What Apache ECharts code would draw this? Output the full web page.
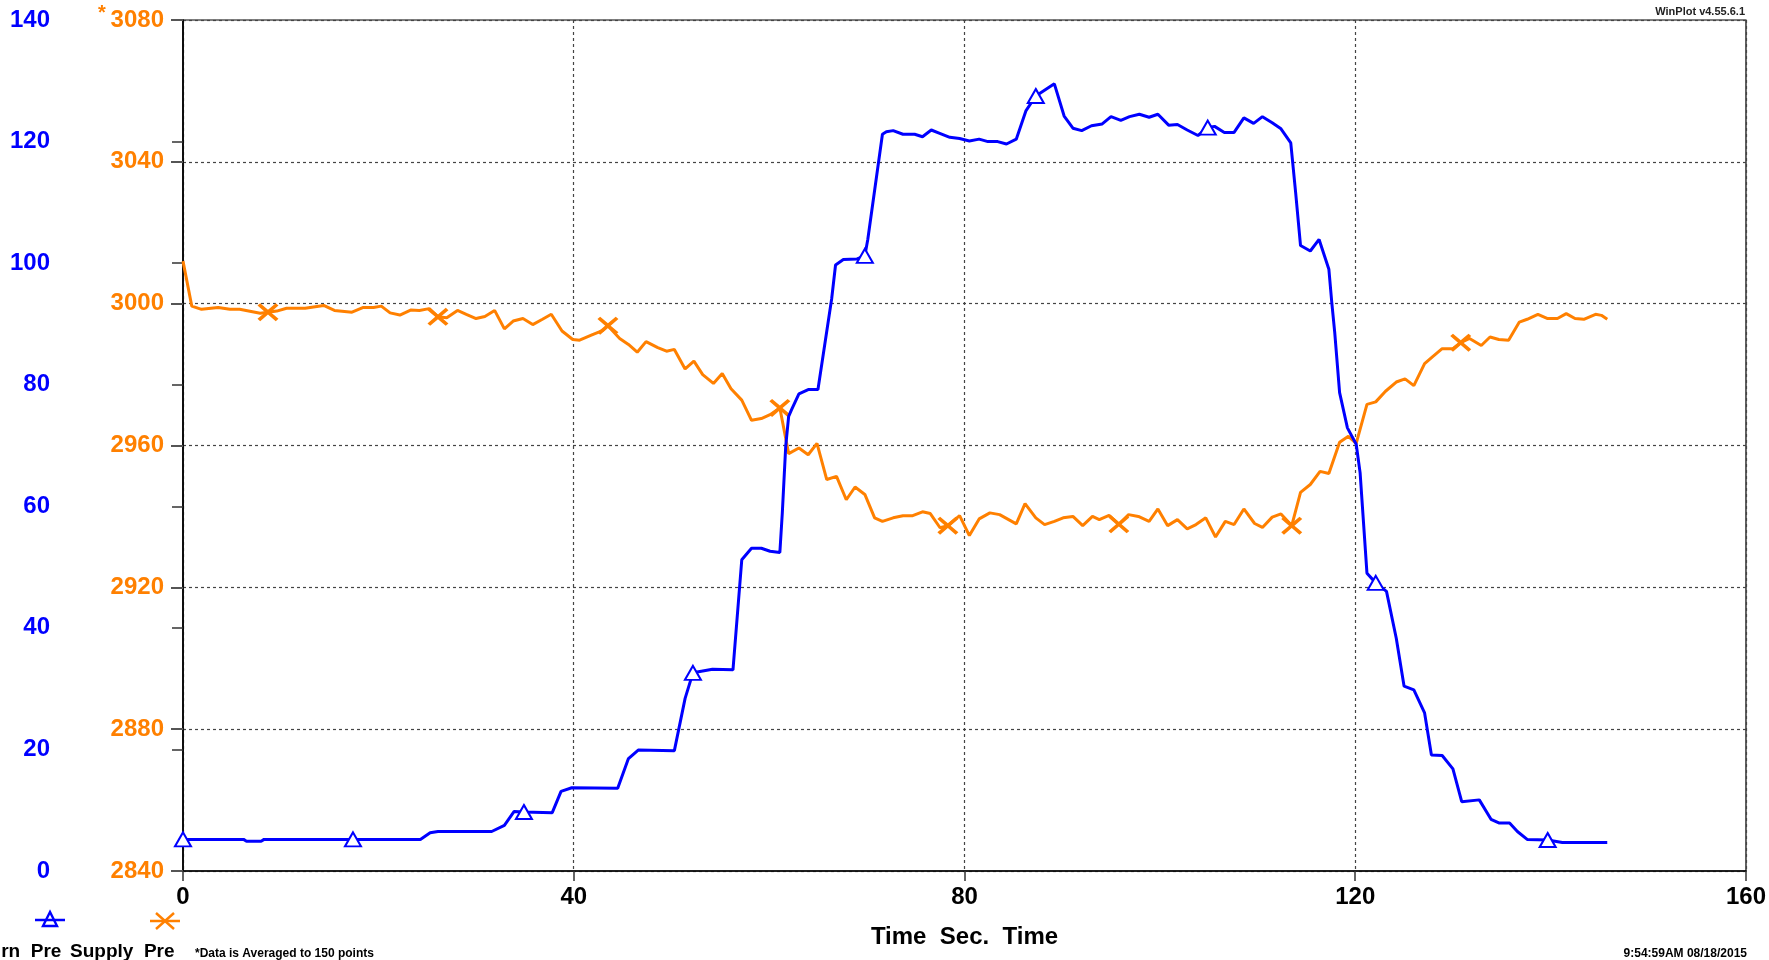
<!DOCTYPE html>
<html>
<head>
<meta charset="utf-8">
<script src="https://cdn.jsdelivr.net/npm/echarts@6/dist/echarts.min.js"></script>
<style>
html,body{margin:0;padding:0;background:#fff;}
#chart{width:1769px;height:960px;}
</style>
</head>
<body>
<div id="chart"></div>
<script>
// ---- data ----
const blueName = 'Return  Press';
const orangeName = 'Supply  Press';

const blueTime = [0, 6.2, 6.5, 8.0, 8.3, 17.4, 24.3, 25.3, 26.1, 31.6, 32.9, 33.9, 34.9, 37.8, 38.7, 39.8, 44.5, 45.6, 46.6, 50.3,
  51.4, 52.2, 54.2, 56.3, 57.2, 58.2, 59.2, 60.1, 61.1, 61.35, 61.7, 62.0, 62.3, 63.05, 64.0, 65.0, 66.4, 66.8, 67.6, 69.0,
  69.8, 70.1, 71.6, 72.0, 72.7, 73.7, 74.9, 75.7, 76.6, 77.4, 78.5, 79.5, 80.5, 81.5, 82.4, 83.4, 84.3, 85.3, 86.3, 87.3,
  89.2, 90.2, 91.1, 92.0, 93.0, 94.1, 95.0, 96.0, 96.9, 97.9, 98.9, 99.8, 100.9, 101.8, 102.8, 103.9, 104.9, 105.6, 106.6, 107.6,
  108.6, 109.6, 110.5, 111.5, 112.4, 113.4, 113.9, 114.4, 115.4, 116.3, 117.3, 117.6, 117.9, 118.4, 119.2, 120.1, 120.5, 121.2, 122.1, 123.2,
  124.2, 125.0, 126.0, 127.1, 127.8, 128.9, 130.0, 130.9, 132.7, 133.9, 134.7, 135.8, 136.6, 137.6, 139.7, 141.2, 145.8];
const bluePres = [5.2, 5.2, 4.9, 4.9, 5.2, 5.2, 5.2, 6.3, 6.5, 6.5, 7.5, 9.8, 9.7, 9.6, 13.1, 13.7, 13.6, 18.5, 19.9, 19.8,
  28.4, 32.6, 33.2, 33.1, 51.2, 53.1, 53.1, 52.6, 52.4, 58.9, 69.9, 74.8, 75.9, 78.5, 79.2, 79.2, 94.1, 99.7, 100.6, 100.7,
  101.2, 103.9, 121.2, 121.6, 121.8, 121.2, 121.2, 120.8, 121.9, 121.4, 120.7, 120.5, 120.1, 120.4, 120.0, 120.0, 119.6, 120.4, 125.1, 127.5,
  129.5, 124.2, 122.2, 121.8, 122.6, 122.9, 124.1, 123.5, 124.1, 124.5, 124.0, 124.5, 122.7, 122.8, 121.9, 121.0, 122.3, 122.5, 121.5, 121.5,
  123.9, 123.0, 124.1, 123.1, 122.1, 119.8, 111.6, 102.9, 102.0, 103.9, 99.0, 93.5, 88.6, 78.7, 72.9, 70.2, 65.5, 49.0, 47.4, 46.0,
  38.3, 30.4, 29.8, 26.0, 19.1, 19.0, 16.8, 11.4, 11.7, 8.5, 7.9, 7.9, 6.5, 5.2, 5.1, 4.7, 4.7];
const blueMarkTimes = [0, 17.4, 34.9, 52.2, 69.8, 87.3, 104.9, 122.1, 139.7];

const orangeTime = [0, 0.9, 1.9, 3.6, 4.8, 5.8, 7.9, 8.7, 9.6, 10.6, 12.5, 14.4, 15.5, 17.3, 18.4, 19.5, 20.3, 21.2, 22.2, 23.3,
  24.2, 25.2, 26.1, 27.0, 28.1, 29.0, 30.0, 30.9, 31.9, 32.9, 33.8, 34.8, 35.8, 36.8, 37.7, 38.8, 39.9, 40.6, 41.8, 43.0,
  43.5, 44.7, 45.6, 46.5, 47.4, 48.6, 49.5, 50.3, 51.4, 52.3, 53.2, 54.3, 55.2, 56.1, 57.2, 58.2, 59.2, 60.1, 61.1, 62.0,
  63.05, 64.0, 64.9, 65.9, 66.9, 67.9, 68.8, 69.8, 70.8, 71.6, 72.7, 73.7, 74.7, 75.7, 76.5, 77.5, 78.3, 79.5, 80.5, 81.5,
  82.6, 83.6, 85.3, 86.2, 87.3, 88.2, 89.2, 90.1, 91.1, 92.1, 93.1, 93.8, 94.8, 95.8, 96.8, 97.8, 98.9, 99.8, 100.8, 101.8,
  102.8, 103.7, 104.7, 105.7, 106.7, 107.6, 108.6, 109.7, 110.5, 111.5, 112.4, 113.5, 114.4, 115.4, 116.4, 117.3, 118.4, 119.3, 120.1, 121.2,
  122.1, 123.1, 124.2, 125.1, 126.0, 127.1, 127.9, 128.9, 130.0, 130.8, 131.7, 132.9, 133.8, 134.7, 135.7, 136.8, 137.6, 138.7, 139.7, 140.7,
  141.6, 142.5, 143.4, 144.6, 145.2, 145.8];
const orangePres = [3012.0, 2999.3, 2998.4, 2998.9, 2998.4, 2998.4, 2997.3, 2997.6, 2997.9, 2998.7, 2998.7, 2999.5, 2998.1, 2997.6, 2998.9, 2998.9, 2999.3, 2997.4, 2996.8, 2998.2,
  2998.1, 2998.6, 2996.3, 2996.0, 2998.1, 2997.0, 2995.8, 2996.4, 2998.1, 2992.9, 2995.1, 2995.8, 2994.1, 2995.6, 2997.0, 2992.3, 2989.9, 2989.7, 2991.1, 2992.5,
  2993.8, 2990.2, 2988.5, 2986.3, 2989.3, 2987.6, 2986.6, 2987.1, 2981.6, 2983.8, 2980.0, 2977.5, 2980.3, 2976.0, 2972.8, 2967.1, 2967.6, 2968.7, 2970.6, 2957.7,
  2959.3, 2957.4, 2960.6, 2950.4, 2951.3, 2944.7, 2948.3, 2946.2, 2939.6, 2938.6, 2939.6, 2940.2, 2940.2, 2941.3, 2940.8, 2936.8, 2937.4, 2940.2, 2934.6, 2939.3,
  2941.0, 2940.5, 2937.9, 2943.6, 2939.6, 2937.7, 2938.6, 2939.6, 2940.0, 2937.4, 2940.0, 2939.1, 2940.3, 2937.8, 2940.5, 2940.0, 2938.6, 2942.1, 2937.4, 2939.1,
  2936.5, 2937.7, 2939.6, 2934.2, 2938.6, 2937.7, 2942.1, 2938.0, 2936.9, 2939.8, 2940.7, 2937.4, 2946.8, 2949.0, 2952.7, 2952.1, 2960.9, 2962.6, 2960.6, 2971.6,
  2972.3, 2975.3, 2977.9, 2978.8, 2976.9, 2983.1, 2985.0, 2987.3, 2987.3, 2989.0, 2990.2, 2988.2, 2990.6, 2989.9, 2989.7, 2994.8, 2995.6, 2997.0, 2995.8, 2995.8,
  2997.2, 2995.8, 2995.6, 2997.0, 2996.7, 2995.6];
const orangeMarkTimes = [8.7, 26.1, 43.5, 61.1, 78.3, 95.8, 113.5, 130.8];

const xTicks = {min: 0, max: 160, interval: 40};
const blueTicks = {min: 0, max: 140, interval: 20};
const orangeTicks = {min: 2840, max: 3080, interval: 40};

// ---- styles ----
const BLUE = '#0000FF';
const ORANGE = '#FF8000';
const FONT = 'Arial, "Liberation Sans", sans-serif';
const X_PATH = 'path://M0,1.3L1.3,0L5,3.7L8.7,0L10,1.3L6.3,5L10,8.7L8.7,10L5,6.3L1.3,10L0,8.7L3.7,5Z';

function buildSeriesData(times, values, marks, markSymbol, markSize) {
  return times.map((t, i) => {
    const isMark = marks.indexOf(t) >= 0;
    return {
      value: [t, values[i]],
      symbol: isMark ? markSymbol : 'none',
      symbolSize: isMark ? markSize : 0
    };
  });
}

const chart = echarts.init(document.getElementById('chart'), null, {renderer: 'canvas'});

const gridDot = {show: true, lineStyle: {type: [3, 3], color: '#444', width: 1.2}};
const plain = v => String(v);

const option = {
  animation: false,
  backgroundColor: '#fff',
  grid: {left: 183, right: 22, top: 20, bottom: 89, show: true, borderColor: '#000', borderWidth: 1.2, backgroundColor: 'transparent'},
  xAxis: {
    type: 'value', min: xTicks.min, max: xTicks.max, interval: xTicks.interval,
    name: 'Time  Sec.  Time', nameLocation: 'middle', nameGap: 54,
    nameTextStyle: {fontFamily: FONT, fontWeight: 'bold', fontSize: 24, color: '#000'},
    axisLine: {show: true, lineStyle: {color: '#000', width: 1.5}},
    axisTick: {show: true, inside: false, length: 10, lineStyle: {color: '#333', width: 1.5}},
    axisLabel: {fontFamily: FONT, fontWeight: 'bold', fontSize: 24, color: '#000', margin: 14, formatter: plain},
    splitLine: gridDot
  },
  yAxis: [
    {
      type: 'value', position: 'left', offset: 115,
      min: blueTicks.min, max: blueTicks.max, interval: blueTicks.interval,
      axisLine: {show: true, lineStyle: {color: '#333', width: 1.5}},
      axisTick: {show: true, inside: false, length: 11, lineStyle: {color: '#333', width: 1.5}},
      axisLabel: {fontFamily: FONT, fontWeight: 'bold', fontSize: 24, color: BLUE, margin: 18, formatter: plain},
      splitLine: {show: false}
    },
    {
      type: 'value', position: 'left', offset: 0,
      min: orangeTicks.min, max: orangeTicks.max, interval: orangeTicks.interval,
      axisLine: {show: true, lineStyle: {color: '#000', width: 1.5}},
      axisTick: {show: true, inside: false, length: 12, lineStyle: {color: '#555', width: 2}},
      axisLabel: {fontFamily: FONT, fontWeight: 'bold', fontSize: 24, color: ORANGE, margin: 19, formatter: plain},
      splitLine: gridDot
    }
  ],
  series: [
    {
      name: orangeName, type: 'line', yAxisIndex: 1,
      data: buildSeriesData(orangeTime, orangePres, orangeMarkTimes, X_PATH, [21, 18]),
      showSymbol: true, symbol: 'none',
      lineStyle: {color: ORANGE, width: 3},
      itemStyle: {color: ORANGE},
      z: 3
    },
    {
      name: blueName, type: 'line', yAxisIndex: 0,
      data: buildSeriesData(blueTime, bluePres, blueMarkTimes, 'emptyTriangle', [16, 14]),
      showSymbol: true, symbol: 'none',
      lineStyle: {color: BLUE, width: 3},
      itemStyle: {color: BLUE, borderColor: BLUE, borderWidth: 2.4},
      z: 4
    }
  ],
  graphic: [
    {type: 'text', right: 24, top: 6, style: {text: 'WinPlot v4.55.6.1', font: 'bold 11px ' + FONT, fill: '#222'}},
    {type: 'text', left: 98, top: 3, style: {text: '*', font: 'bold 20px ' + FONT, fill: ORANGE}},
    // legend: return
    {type: 'line', shape: {x1: 35, y1: 920, x2: 65, y2: 920}, style: {stroke: BLUE, lineWidth: 2.5}},
    {type: 'polygon', shape: {points: [[50, 912], [43, 926], [57, 926]]}, style: {stroke: BLUE, fill: 'none', lineWidth: 2.4}},
    // legend: supply
    {type: 'line', shape: {x1: 150, y1: 921, x2: 180, y2: 921}, style: {stroke: ORANGE, lineWidth: 2.5}},
    {type: 'line', shape: {x1: 156, y1: 913, x2: 174, y2: 929}, style: {stroke: ORANGE, lineWidth: 2.5}},
    {type: 'line', shape: {x1: 156, y1: 929, x2: 174, y2: 913}, style: {stroke: ORANGE, lineWidth: 2.5}},
    {type: 'text', x: -41, y: 952, style: {text: blueName, font: 'bold 19px ' + FONT, fill: '#000', verticalAlign: 'middle', width: 107, overflow: 'truncate', ellipsis: ''}},
    {type: 'text', x: 70, y: 952, style: {text: orangeName, font: 'bold 19px ' + FONT, fill: '#000', verticalAlign: 'middle', width: 108, overflow: 'truncate', ellipsis: ''}},
    {type: 'text', x: 195, y: 954, style: {text: '*Data is Averaged to 150 points', font: 'bold 12px ' + FONT, fill: '#000', verticalAlign: 'middle'}},
    {type: 'text', x: 1747, y: 954, style: {text: '9:54:59AM 08/18/2015', font: 'bold 12px ' + FONT, fill: '#000', verticalAlign: 'middle', align: 'right'}}
  ]
};
chart.setOption(option);
</script>
</body>
</html>
